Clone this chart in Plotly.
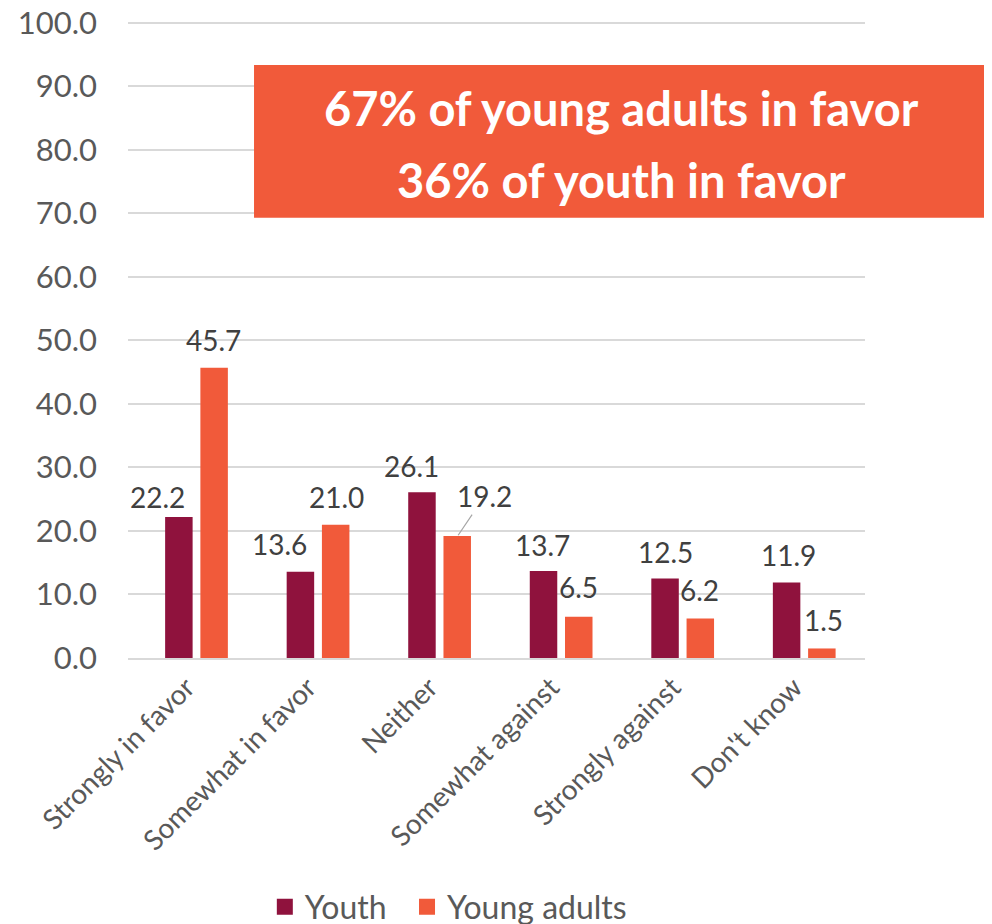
import plotly.graph_objects as go

# ---------------- data ----------------
categories = ["Strongly in favor", "Somewhat in favor", "Neither",
              "Somewhat against", "Strongly against", "Don't know"]
youth = [22.2, 13.6, 26.1, 13.7, 12.5, 11.9]
young_adults = [45.7, 21.0, 19.2, 6.5, 6.2, 1.5]
series_names = ["Youth", "Young adults"]
callout_lines = ["67% of young adults in favor", "36% of youth in favor"]
y_tick_values = [0, 10, 20, 30, 40, 50, 60, 70, 80, 90, 100]

# ---------------- style ----------------
YOUTH_COLOR = "#8F123D"
YA_COLOR = "#F15A3A"
GRID = "#D9D9D9"
AXIS_TEXT = "#595959"
LABEL_TEXT = "#404040"
FONT = "Lato"

# data-label offsets in pixels (from group centre / from bar top)
youth_label_dx = [-39, -39, -28, -19, -17, -16]
youth_label_dy = [20, 28, 26, 26, 27, 27]
ya_label_dx = [17, 18, 45, 17, 17, 19]
ya_label_dy = [28, 28, 40, 30, 29, 28]
ya_leader = [False, False, True, False, False, False]
BAR_HALF_OFFSET = 18

fig = go.Figure()
fig.add_trace(go.Bar(x=categories, y=youth, name=series_names[0],
                     marker=dict(color=YOUTH_COLOR, line=dict(width=0)),
                     showlegend=False, hoverinfo="x+y"))
fig.add_trace(go.Bar(x=categories, y=young_adults, name=series_names[1],
                     marker=dict(color=YA_COLOR, line=dict(width=0)),
                     showlegend=False, hoverinfo="x+y"))
# legend entries with larger square swatches, one legend box per entry
for name, col, leg in zip(series_names, [YOUTH_COLOR, YA_COLOR],
                          ["legend", "legend2"]):
    fig.add_trace(go.Scatter(x=[None], y=[None], mode="markers", name=name,
                             marker=dict(symbol="square", size=16, color=col),
                             showlegend=True, legend=leg))

LABEL_FONT = dict(family=FONT, size=28, color=LABEL_TEXT)
annotations = []
for i, cat in enumerate(categories):
    annotations.append(dict(
        x=cat, y=youth[i], xref="x", yref="y", text=f"{youth[i]:.1f}",
        showarrow=False, xshift=youth_label_dx[i], yshift=youth_label_dy[i],
        xanchor="center", yanchor="middle", font=LABEL_FONT))
    if ya_leader[i]:
        annotations.append(dict(
            x=cat, y=young_adults[i], xref="x", yref="y",
            text=f"{young_adults[i]:.1f}", showarrow=True,
            arrowhead=0, arrowwidth=1.2, arrowcolor="#A6A6A6", standoff=1,
            xshift=BAR_HALF_OFFSET, ax=ya_label_dx[i] - BAR_HALF_OFFSET,
            ay=-ya_label_dy[i], font=LABEL_FONT))
    else:
        annotations.append(dict(
            x=cat, y=young_adults[i], xref="x", yref="y",
            text=f"{young_adults[i]:.1f}",
            showarrow=False, xshift=ya_label_dx[i], yshift=ya_label_dy[i],
            xanchor="center", yanchor="middle", font=LABEL_FONT))

# callout box text
for line, yy in zip(callout_lines, [0.863, 0.751]):
    annotations.append(dict(
        x=0.670, y=yy, xref="paper", yref="paper", text=line,
        showarrow=False, xanchor="center", yanchor="middle",
        font=dict(family=FONT, size=47, color="white", weight="bold")))

legend_common = dict(orientation="h", xref="container", yref="container",
                     y=1 - 899 / 916, xanchor="left", yanchor="middle",
                     font=dict(family=FONT, size=32, color=AXIS_TEXT),
                     itemwidth=30, bgcolor="rgba(0,0,0,0)")

fig.update_layout(
    width=984, height=916,
    margin=dict(l=120, r=127, t=13, b=266),
    paper_bgcolor="white", plot_bgcolor="white",
    barmode="group", bargap=0.42, bargroupgap=0.22,
    font=dict(family=FONT, color=AXIS_TEXT),
    shapes=[dict(type="rect", xref="paper", yref="paper",
                 x0=0.171, x1=1.171, y0=0.691, y1=0.931,
                 fillcolor=YA_COLOR, line=dict(width=0), layer="above")],
    annotations=annotations,
    legend=dict(x=0.261, **legend_common),
    legend2=dict(x=0.4055, **legend_common),
)
fig.update_yaxes(range=[0, 100.3], tickvals=y_tick_values, tickformat=".1f",
                 showgrid=True, gridcolor=GRID, gridwidth=2,
                 zeroline=False, showline=False, ticks="", automargin=False,
                 ticklabelstandoff=30, ticklabeloverflow="allow",
                 tickfont=dict(family=FONT, size=31, color=AXIS_TEXT))
fig.update_xaxes(showline=True, linecolor=GRID, linewidth=2, ticks="",
                 tickangle=-45, ticklabelstandoff=0, ticklabelshift=-10,
                 automargin=False, ticklabeloverflow="allow",
                 tickfont=dict(family=FONT, size=28, color=AXIS_TEXT))

fig.write_html("out.html")
